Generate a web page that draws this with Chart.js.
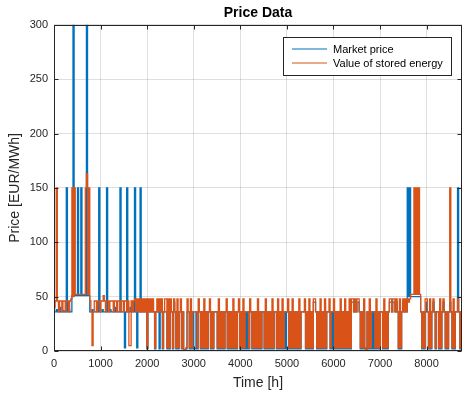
<!DOCTYPE html>
<html>
<head>
<meta charset="utf-8">
<title>Price Data</title>
<script src="https://cdn.jsdelivr.net/npm/chart.js@4.4.1/dist/chart.umd.min.js"></script>
<style>
  html, body { margin: 0; padding: 0; background: #fff; }
  #wrap { width: 463px; height: 394px; }
</style>
</head>
<body>
<div id="wrap"><canvas id="priceChart" width="463" height="394"></canvas></div>
<script>
// one value per day (24 h step), EUR/MWh
const HOURS_PER_STEP = 24;

const marketPrice = [
  36, 36, 38, 36, 36, 40, 36, 36, 37, 36, 36, 150, 36, 38, 36, 36, 51, 300, 51, 51,
  51, 150, 51, 51, 150, 51, 51, 51, 51, 300, 51, 51, 36, 36, 38, 36, 36, 36, 40, 36,
  150, 36, 36, 38, 36, 36, 36, 150, 36, 36, 38, 36, 36, 36, 36, 40, 36, 36, 36, 150,
  36, 36, 36, 3, 36, 150, 36, 36, 40, 36, 36, 36, 150, 36, 3, 36, 36, 150, 36, 36,
  36, 36, 36, 2, 36, 36, 36, 36, 45, 36, 2, 36, 36, 36, 2, 36, 36, 2, 36, 36,
  36, 2, 36, 2, 36, 36, 2, 45, 36, 2, 36, 2, 36, 36, 2, 36, 1, 1, 2, 36,
  36, 2, 36, 2, 36, 2, 2, 36, 2, 36, 36, 2, 36, 2, 36, 2, 36, 2, 36, 36,
  2, 36, 2, 36, 36, 36, 2, 36, 2, 36, 2, 36, 2, 36, 36, 2, 36, 2, 36, 2,
  36, 2, 36, 2, 36, 36, 2, 36, 2, 36, 2, 36, 2, 36, 2, 36, 36, 2, 36, 2,
  36, 2, 36, 2, 36, 2, 36, 36, 2, 36, 2, 36, 2, 36, 2, 36, 2, 36, 36, 2,
  36, 2, 36, 2, 36, 2, 36, 2, 36, 36, 2, 36, 2, 36, 2, 36, 2, 36, 2, 36,
  2, 36, 36, 36, 36, 2, 36, 2, 36, 2, 36, 2, 45, 45, 36, 2, 36, 2, 36, 2,
  36, 2, 36, 2, 36, 36, 36, 2, 36, 2, 36, 2, 36, 2, 36, 2, 36, 2, 36, 2,
  36, 2, 36, 2, 36, 2, 45, 45, 36, 45, 36, 45, 45, 36, 2, 36, 2, 36, 2, 0,
  36, 2, 36, 2, 36, 2, 36, 2, 36, 2, 36, 2, 36, 36, 2, 36, 2, 36, 2, 36,
  45, 45, 36, 45, 45, 36, 45, 36, 2, 36, 2, 36, 45, 36, 36, 36, 150, 50, 150, 50,
  50, 50, 50, 50, 50, 50, 50, 50, 36, 2, 36, 2, 36, 45, 36, 2, 36, 2, 36, 45,
  36, 2, 36, 36, 2, 36, 2, 36, 45, 36, 2, 36, 2, 36, 45, 36, 2, 36, 2, 36,
  36, 150, 36, 2, 36
];

const storedValue = [
  40, 46, 150, 46, 36, 46, 46, 36, 46, 46, 36, 46, 46, 36, 46, 48, 150, 50, 150, 52,
  52, 52, 52, 52, 52, 52, 52, 52, 150, 163, 52, 150, 46, 36, 5, 36, 46, 46, 36, 46,
  46, 36, 46, 46, 51, 46, 36, 46, 46, 36, 46, 46, 46, 36, 46, 46, 36, 46, 46, 36,
  46, 46, 36, 46, 46, 36, 46, 5, 5, 46, 36, 46, 48, 36, 48, 36, 48, 36, 48, 36,
  48, 36, 48, 3, 48, 36, 48, 36, 48, 36, 3, 36, 48, 36, 48, 36, 48, 3, 36, 48,
  48, 3, 48, 3, 48, 36, 3, 48, 36, 3, 48, 3, 36, 48, 3, 36, 1, 1, 3, 48,
  36, 3, 48, 3, 36, 36, 36, 36, 3, 48, 36, 3, 36, 3, 48, 3, 36, 3, 36, 48,
  3, 36, 3, 36, 36, 36, 3, 48, 3, 36, 3, 36, 3, 36, 48, 3, 36, 3, 36, 3,
  48, 3, 36, 3, 36, 48, 3, 36, 3, 48, 3, 36, 36, 36, 3, 48, 36, 3, 36, 3,
  36, 3, 48, 3, 36, 3, 36, 36, 3, 48, 3, 36, 3, 36, 3, 48, 3, 36, 36, 3,
  48, 3, 36, 3, 48, 3, 36, 36, 36, 48, 3, 36, 3, 48, 3, 36, 3, 36, 3, 48,
  3, 36, 36, 36, 48, 3, 36, 3, 48, 3, 36, 3, 48, 48, 36, 3, 36, 3, 48, 3,
  36, 3, 48, 3, 36, 36, 48, 3, 36, 36, 48, 3, 36, 3, 36, 3, 48, 3, 36, 3,
  48, 3, 36, 3, 48, 3, 48, 48, 36, 48, 36, 48, 48, 36, 3, 36, 3, 48, 3, 1,
  36, 3, 48, 3, 36, 36, 36, 3, 48, 3, 36, 3, 36, 36, 3, 48, 3, 36, 3, 36,
  48, 48, 36, 48, 48, 36, 48, 36, 3, 48, 3, 36, 48, 36, 48, 36, 48, 45, 48, 52,
  52, 52, 150, 52, 150, 52, 150, 52, 36, 3, 36, 3, 48, 48, 36, 3, 48, 3, 36, 48,
  36, 3, 36, 36, 3, 48, 3, 36, 48, 36, 3, 36, 3, 36, 150, 36, 3, 48, 3, 36,
  36, 48, 36, 3, 36
];

const timeTicks = [0, 1000, 2000, 3000, 4000, 5000, 6000, 7000, 8000];
const priceTicks = [0, 50, 100, 150, 200, 250, 300];

const FONT = "'Liberation Sans', Arial, Helvetica, sans-serif";
const axisColor = "#262626";
const gridColor = "rgba(38, 38, 38, 0.15)";
const marketColor = "#0072BD";
const storedColor = "#D95319";

Chart.defaults.font.family = FONT;

// sample-and-hold: each value holds until the next step
function toSteps(values) {
  const pts = values.map((v, i) => ({ x: i * HOURS_PER_STEP, y: v }));
  pts.push({ x: values.length * HOURS_PER_STEP, y: values[values.length - 1] });
  return pts;
}

function setTicks(list) {
  return (scale) => {
    scale.ticks = list.map((v) => ({ value: v }));
  };
}

// box around the axes with inward tick marks
const axesBox = {
  id: "axesBox",
  afterDatasetsDraw(chart) {
    const { ctx, chartArea: a, scales } = chart;
    const L = Math.round(a.left) + 0.5;
    const R = Math.round(a.right) - 0.5;
    const T = Math.round(a.top) + 0.5;
    const B = Math.round(a.bottom) - 0.5;
    const len = 4;
    ctx.save();
    ctx.strokeStyle = axisColor;
    ctx.lineWidth = 1;
    ctx.beginPath();
    timeTicks.forEach((t) => {
      const x = Math.round(scales.x.getPixelForValue(t)) + 0.5;
      ctx.moveTo(x, B);
      ctx.lineTo(x, B - len);
      ctx.moveTo(x, T);
      ctx.lineTo(x, T + len);
    });
    priceTicks.forEach((p) => {
      const y = Math.round(scales.y.getPixelForValue(p)) + 0.5;
      ctx.moveTo(L, y);
      ctx.lineTo(L + len, y);
      ctx.moveTo(R, y);
      ctx.lineTo(R - len, y);
    });
    ctx.stroke();
    ctx.strokeRect(L, T, R - L, B - T);
    ctx.restore();
  },
};

// legend box in the upper right corner of the axes
const insetLegend = {
  id: "insetLegend",
  afterDraw(chart) {
    const { ctx } = chart;
    const x0 = 283.5, y0 = 37.5, w = 168, h = 38;
    const entries = [
      { label: "Market price", color: marketColor },
      { label: "Value of stored energy", color: storedColor },
    ];
    ctx.save();
    ctx.fillStyle = "#fff";
    ctx.fillRect(x0, y0, w, h);
    ctx.strokeStyle = axisColor;
    ctx.lineWidth = 1;
    ctx.strokeRect(x0, y0, w, h);
    ctx.font = "11px " + FONT;
    ctx.textBaseline = "middle";
    ctx.textAlign = "left";
    entries.forEach((e, i) => {
      const y = 49 + i * 14;
      ctx.strokeStyle = e.color;
      ctx.lineWidth = 1.2;
      ctx.beginPath();
      ctx.moveTo(292, y);
      ctx.lineTo(327, y);
      ctx.stroke();
      ctx.fillStyle = "#000";
      ctx.fillText(e.label, 333, y + 1);
    });
    ctx.restore();
  },
};

const ctx = document.getElementById("priceChart").getContext("2d");

new Chart(ctx, {
  type: "line",
  data: {
    datasets: [
      {
        label: "Market price",
        data: toSteps(marketPrice),
        borderColor: marketColor,
        borderWidth: 1.3,
        stepped: true,
        pointRadius: 0,
        fill: false,
        order: 1,
      },
      {
        label: "Value of stored energy",
        data: toSteps(storedValue),
        borderColor: storedColor,
        borderWidth: 1.3,
        stepped: true,
        pointRadius: 0,
        fill: false,
        order: 0, // drawn on top
      },
    ],
  },
  options: {
    responsive: false,
    animation: false,
    events: [],
    layout: { padding: { top: 0, right: 1, bottom: 0, left: 0 } },
    plugins: {
      legend: { display: false },
      tooltip: { enabled: false },
      title: {
        display: true,
        text: "Price Data",
        fullSize: false,
        color: "#000",
        font: { size: 14, weight: "bold" },
        padding: { top: 5, bottom: 3 },
      },
    },
    scales: {
      x: {
        type: "linear",
        min: 0,
        max: HOURS_PER_STEP * marketPrice.length,
        afterBuildTicks: setTicks(timeTicks),
        afterFit: (s) => { s.height = 43; },
        ticks: {
          color: axisColor,
          font: { size: 11 },
          padding: 6,
          maxRotation: 0,
          autoSkip: false,
          callback: (v) => String(v),
        },
        grid: { color: gridColor, drawTicks: false },
        border: { display: false },
        title: {
          display: true,
          text: "Time [h]",
          color: axisColor,
          font: { size: 14 },
          padding: { top: 0, bottom: 2 },
        },
      },
      y: {
        min: 0,
        max: 300,
        afterBuildTicks: setTicks(priceTicks),
        afterFit: (s) => { s.width = 54; },
        ticks: { color: axisColor, font: { size: 11 }, padding: 6, callback: (v) => String(v) },
        grid: { color: gridColor, drawTicks: false },
        border: { display: false },
        title: {
          display: true,
          text: "Price [EUR/MWh]",
          color: axisColor,
          font: { size: 14 },
          padding: { top: 7, bottom: 0 },
        },
      },
    },
  },
  plugins: [axesBox, insetLegend],
});
</script>
</body>
</html>
